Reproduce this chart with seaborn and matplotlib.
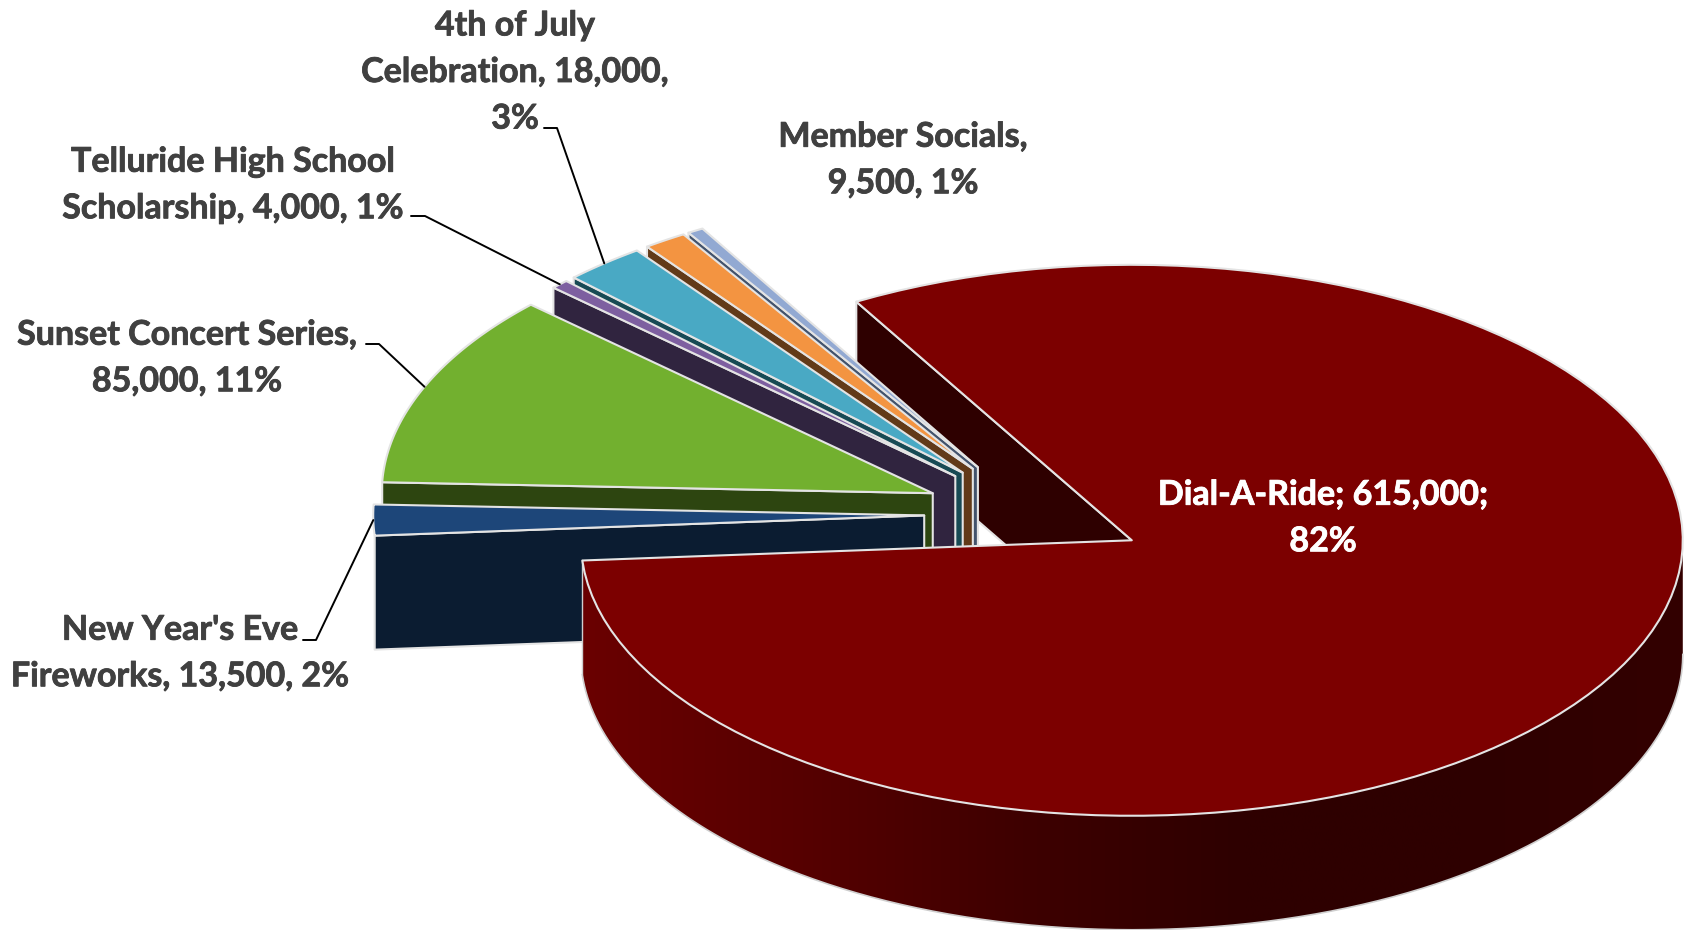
import numpy as np
import matplotlib
matplotlib.use("Agg")
import matplotlib.pyplot as plt
from matplotlib.path import Path
from matplotlib.patches import PathPatch
import matplotlib.patheffects as pe
import seaborn as sns

# Fundraising and programme figures, in clockwise order from the top of the pie
categories = ["Dial-A-Ride", "New Year's Eve Fireworks", "Sunset Concert Series",
              "Telluride High School Scholarship", "4th of July Celebration",
              "Member Socials", "Other"]
values = [615000, 13500, 85000, 4000, 18000, 9500, 3500]
top_colors = ["#7C0000", "#1D4679", "#72B02F", "#7D5FA0", "#49A9C4", "#F39441", "#92A9D2"]
wall_colors = ["#2E0000", "#0B1C31", "#2D4510", "#30243F", "#174A54", "#623A18", "#43536C"]

# Label text with its centre and leader elbow
label_texts = ["Dial-A-Ride; 615,000;\n82%", "New Year's Eve\nFireworks, 13,500, 2%",
               "Sunset Concert Series,\n85,000, 11%", "Telluride High School\nScholarship, 4,000, 1%",
               "4th of July\nCelebration, 18,000,\n3%", "Member Socials,\n9,500, 1%"]
label_centres = [(1323, 518), (180, 653), (187, 358), (233, 185), (515, 72), (903, 160)]
leader_starts = [None, (303, 640), (366, 344), (411, 216), (544, 128), None]
leader_elbows = [None, (316, 640), (379, 344), (425, 216), (557, 128), None]

# Pie geometry on the canvas
WIDTH, HEIGHT = 1686, 930
CENTRE = (1034.4, 514.5)
RADIUS = 551.0
TILT = 0.5
DEPTH = 114.0
EXPLODE = 0.2
START_ANGLE = 120.0
EDGE = "#E4E4E4"

sns.set_theme(style="white")
plt.rcParams["font.family"] = ["Lato", "DejaVu Sans"]

fig, ax = plt.subplots(figsize=(WIDTH / 100, HEIGHT / 100), dpi=100)
ax.set_position([0, 0, 1, 1])
ax.axis("off")

spans = 360.0 * np.array(values) / np.sum(values)
ends = START_ANGLE - np.cumsum(spans)
starts = ends + spans


def apex_of(mid):
    a = np.radians(mid)
    return (CENTRE[0] + EXPLODE * RADIUS * np.cos(a),
            CENTRE[1] - EXPLODE * RADIUS * TILT * np.sin(a))


def arc(apex, angles):
    a = np.radians(angles)
    return (apex[0] + RADIUS * np.cos(a), apex[1] - RADIUS * TILT * np.sin(a))


def draw_wall(apex, angle, color, z):
    x, y = arc(apex, np.array([angle]))
    xs = [apex[0], x[0], x[0], apex[0]]
    ys = [apex[1], y[0], y[0] + DEPTH, apex[1] + DEPTH]
    ax.fill(xs, ys, facecolor=color, edgecolor=EDGE, linewidth=1.5, joinstyle="round", zorder=z)


def draw_top(apex, start, end, color, z):
    x, y = arc(apex, np.linspace(start, end, 120))
    ax.fill(np.r_[apex[0], x], np.r_[apex[1], y], facecolor=color, edgecolor=EDGE,
            linewidth=1.5, joinstyle="round", zorder=z)


mids = (starts + ends) / 2
apexes = [apex_of(m) for m in mids]

# The large slice's cut face sits behind all of the small slices
draw_wall(apexes[0], START_ANGLE, wall_colors[0], 1)

# Small slices from the back of the pie to the front; the wall under each
# slice hangs from its counter-clockwise edge
for z, i in enumerate(range(len(values) - 1, 0, -1), start=2):
    draw_wall(apexes[i], starts[i], wall_colors[i], z)
    draw_top(apexes[i], starts[i], ends[i], top_colors[i], z + 0.5)

# Outer rim of the large slice, shaded from left to right
shade = sns.blend_palette(["#6A0000", "#560000", "#3E0000", "#2E0000", "#2E0000", "#330000"], 256)
rim_angles = np.linspace(starts[0] - spans[0], 0, 300) % 360
rim_angles[-1] = 360
rim_x, rim_y = arc(apexes[0], rim_angles)
outline = np.r_[np.c_[rim_x, rim_y], np.c_[rim_x[::-1], rim_y[::-1] + DEPTH]]
rim_patch = PathPatch(Path(np.r_[outline, outline[:1]], closed=True), facecolor="none",
                      edgecolor="none", transform=ax.transData, zorder=20)
ax.add_patch(rim_patch)
gradient = ax.imshow(np.array(shade)[np.newaxis, :, :], aspect="auto", zorder=20,
                     extent=(rim_x.min(), rim_x.max(), rim_y.max() + DEPTH, rim_y.min()),
                     interpolation="bilinear")
gradient.set_clip_path(rim_patch)
ax.plot(rim_x, rim_y + DEPTH, color="#CFCFCF", linewidth=1.2, zorder=21)
ax.plot([rim_x[0], rim_x[0]], [rim_y[0], rim_y[0] + DEPTH], color="#CFCFCF", linewidth=1.0, zorder=21)
draw_top(apexes[0], starts[0], ends[0], top_colors[0], 22)

# Labels and leader lines running to the middle of each slice's arc
for i, (text, centre) in enumerate(zip(label_texts, label_centres)):
    color = "white" if i == 0 else "#404040"
    ax.text(centre[0], centre[1], text, ha="center", va="center", ma="center",
            fontsize=24.5, fontweight="bold", linespacing=1.56, color=color, zorder=30,
            path_effects=[pe.withStroke(linewidth=0.6, foreground=color)])
    if leader_starts[i] is not None:
        ex, ey = arc(apexes[i], np.array([mids[i]]))
        ax.plot([leader_starts[i][0], leader_elbows[i][0], ex[0]],
                [leader_starts[i][1], leader_elbows[i][1], ey[0]],
                color="black", linewidth=1.4, zorder=25)

ax.set_xlim(0, WIDTH)
ax.set_ylim(HEIGHT, 0)

fig.savefig("out.png", dpi=100, facecolor="white")
